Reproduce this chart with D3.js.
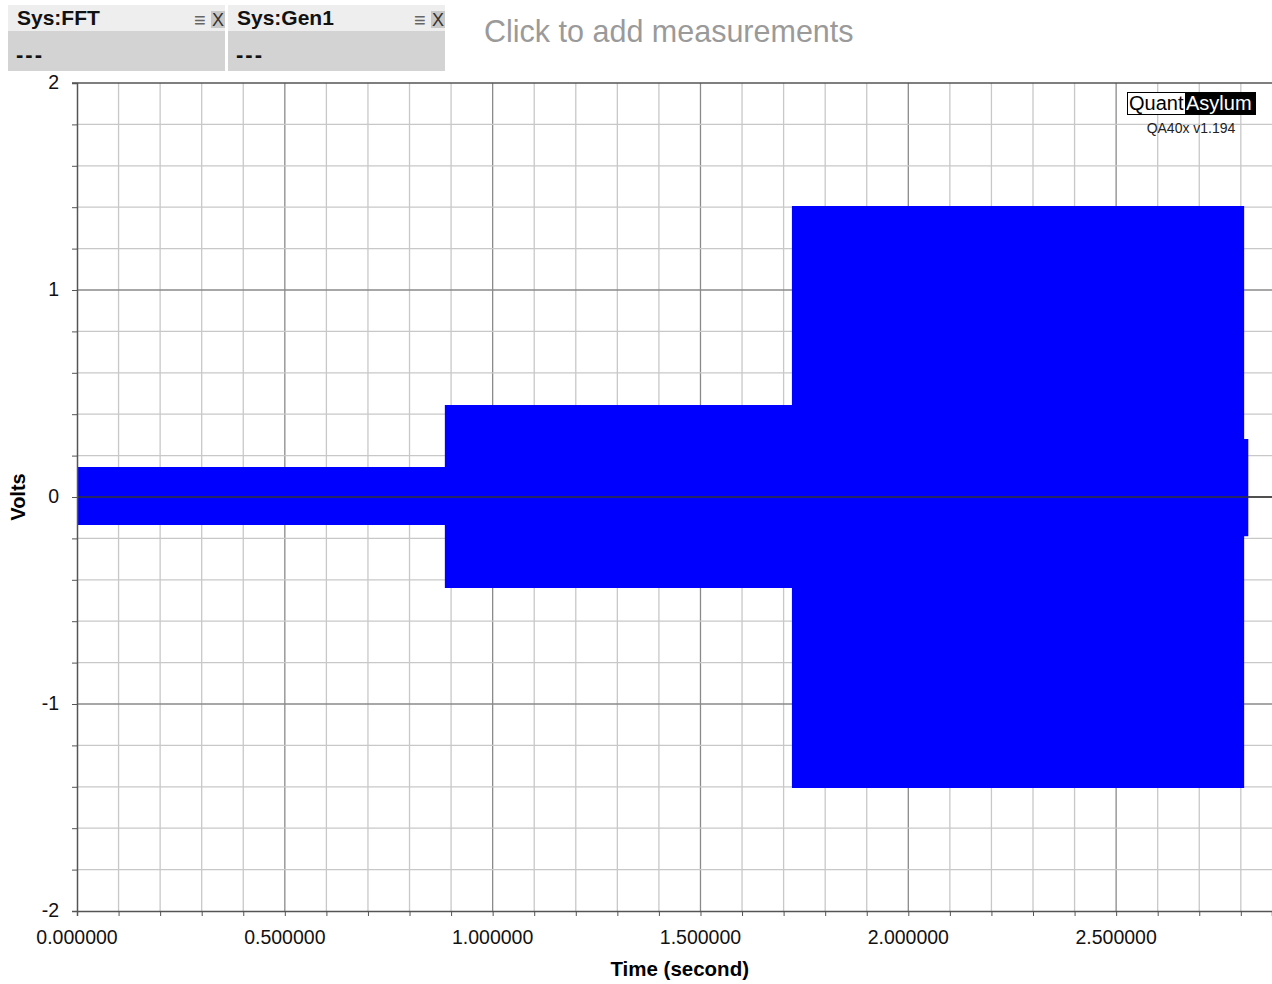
<!DOCTYPE html>
<html lang="en">
<head>
	<meta charset="UTF-8">
	<title>QA40x Time Domain</title>
	<script src="https://cdn.jsdelivr.net/npm/d3@7"></script>
	<style>
	body {
		margin: 0;
		background-color: #ffffff;
		font-family: "Liberation Sans", Arial, sans-serif;
	}
	svg text {
		font-family: "Liberation Sans", Arial, sans-serif;
	}
	</style>
</head>
<body>
<script>
	// envelope of the recorded burst: segment start times (s), upper and lower peaks (V)
	var segStart = [0.002, 0.885, 1.720, 2.808];
	var segEnd = 2.818;
	var segHigh = [0.145, 0.444, 1.406, 0.28];
	var segLow = [-0.135, -0.44, -1.406, -0.19];

	var xTicks = [0, 0.5, 1.0, 1.5, 2.0, 2.5];
	var yTicks = [-2, -1, 0, 1, 2];
	var panels = ['Sys:FFT', 'Sys:Gen1'];

	var W = 1272, H = 984;
	var margin = {top: 83, bottom: 73, left: 77, right: 0};
	var width = W - margin.left - margin.right;
	var height = H - margin.top - margin.bottom;

	var svg = d3.select('body').append('svg')
		.attr('width', W)
		.attr('height', H);

	// header panels
	var panel = svg.selectAll('.panel')
		.data(panels)
		.enter()
		.append('g')
		.attr('class', 'panel')
		.attr('transform', function (d, i) { return 'translate(' + (8 + i * 220) + ',5)'; });

	panel.append('rect').attr('width', 217).attr('height', 26).style('fill', '#eeeeee');
	panel.append('rect').attr('y', 26).attr('width', 217).attr('height', 40).style('fill', '#d3d3d3');
	panel.append('text')
		.attr('x', 9).attr('y', 20)
		.style('font-size', '21px').style('font-weight', 'bold').style('fill', '#111')
		.text(function (d) { return d; });
	panel.append('text')
		.attr('x', 8).attr('y', 57)
		.style('font-size', '22px').style('font-weight', 'bold').style('fill', '#111')
		.style('letter-spacing', '2px')
		.text('---');
	panel.append('rect').attr('x', 203).attr('y', 6).attr('width', 14).attr('height', 17).style('fill', '#c8c8c8');
	panel.append('text')
		.attr('x', 210).attr('y', 21)
		.style('font-size', '18px').style('fill', '#333').style('text-anchor', 'middle')
		.text('X');
	panel.append('text')
		.attr('x', 186).attr('y', 22)
		.style('font-size', '20px').style('font-weight', 'bold').style('fill', '#666')
		.text('\u2261');

	svg.append('text')
		.attr('x', 484).attr('y', 42)
		.style('font-size', '30.5px').style('fill', '#9a9a9a')
		.text('Click to add measurements');

	var g = svg.append('g')
		.attr('transform', 'translate(' + margin.left + ',' + margin.top + ')');

	var x = d3.scaleLinear().domain([0, 2.875]).range([0, width]);
	var y = d3.scaleLinear().domain([-2, 2]).range([height, 0]);

	// minor grid
	var xMinor = d3.range(1, 29).map(function (i) { return i / 10; });
	var yMinor = d3.range(-9, 10).map(function (i) { return i / 5; });

	g.selectAll('.vgrid')
		.data(xMinor)
		.enter().append('line')
		.attr('x1', function (d) { return x(d); })
		.attr('x2', function (d) { return x(d); })
		.attr('y1', 0).attr('y2', height)
		.style('stroke', function (d) { return Math.abs(d * 2 - Math.round(d * 2)) < 1e-6 ? '#8a8a8a' : '#c8c8c8'; })
		.style('stroke-width', 1.3);

	g.selectAll('.hgrid')
		.data(yMinor)
		.enter().append('line')
		.attr('x1', 0).attr('x2', width)
		.attr('y1', function (d) { return y(d); })
		.attr('y2', function (d) { return y(d); })
		.style('stroke', function (d) { return Math.abs(d - Math.round(d)) < 1e-6 ? '#8a8a8a' : '#c8c8c8'; })
		.style('stroke-width', 1.3);

	// signal envelope
	var env = segStart.map(function (t, i) { return {t: t, hi: segHigh[i], lo: segLow[i]}; });
	env.push({t: segEnd, hi: segHigh[segHigh.length - 1], lo: segLow[segLow.length - 1]});

	var area = d3.area()
		.curve(d3.curveStepAfter)
		.x(function (d) { return x(d.t); })
		.y0(function (d) { return y(d.lo); })
		.y1(function (d) { return y(d.hi); });

	g.append('path')
		.datum(env)
		.attr('d', area)
		.style('fill', '#0000ff');

	// zero line
	g.append('line')
		.attr('x1', 0).attr('x2', width)
		.attr('y1', y(0)).attr('y2', y(0))
		.style('stroke', '#333').style('stroke-width', 1.3);

	// top border
	g.append('line')
		.attr('x1', -5).attr('x2', width)
		.attr('y1', 0).attr('y2', 0)
		.style('stroke', '#555').style('stroke-width', 1.3);

	// axes
	var xAxis = g.append('g')
		.attr('transform', 'translate(0,' + height + ')')
		.call(d3.axisBottom(x).tickValues(xMinor.concat([0])).tickSize(5).tickFormat(''));
	xAxis.select('.domain').style('stroke', '#555').style('stroke-width', 1.5);
	xAxis.selectAll('line').style('stroke', '#555');

	g.selectAll('.xlabel')
		.data(xTicks)
		.enter().append('text')
		.attr('x', function (d) { return x(d); })
		.attr('y', height + 33)
		.style('text-anchor', 'middle')
		.style('font-size', '19.5px').style('fill', '#111')
		.text(function (d) { return d.toFixed(6); });

	var yAxis = g.append('g')
		.call(d3.axisLeft(y).tickValues(yMinor.concat([-2, 2])).tickSize(5).tickFormat(''));
	yAxis.select('.domain').style('stroke', '#555').style('stroke-width', 1.5);
	yAxis.selectAll('line').style('stroke', '#555');

	g.selectAll('.ylabel')
		.data(yTicks)
		.enter().append('text')
		.attr('x', -18)
		.attr('y', function (d) { return y(d) - 1; })
		.attr('dy', '0.35em')
		.style('text-anchor', 'end')
		.style('font-size', '19.5px').style('fill', '#111')
		.text(function (d) { return d; });

	svg.append('text')
		.attr('x', margin.left + x(1.45))
		.attr('y', 976)
		.style('text-anchor', 'middle')
		.style('font-size', '20.5px').style('font-weight', 'bold')
		.text('Time (second)');

	svg.append('text')
		.attr('transform', 'translate(25,' + (margin.top + y(0)) + ') rotate(-90)')
		.style('text-anchor', 'middle')
		.style('font-size', '20px').style('font-weight', 'bold')
		.text('Volts');

	// logo
	var logo = svg.append('g').attr('transform', 'translate(1127,92)');
	logo.append('rect').attr('width', 129).attr('height', 23).style('fill', '#000');
	logo.append('rect').attr('x', 1).attr('y', 1).attr('width', 57).attr('height', 21).style('fill', '#fff');
	logo.append('text').attr('x', 2).attr('y', 18).style('font-size', '20px').style('fill', '#000').text('Quant');
	logo.append('text').attr('x', 59).attr('y', 18).style('font-size', '20px').style('fill', '#fff').text('Asylum');
	svg.append('text')
		.attr('x', 1191).attr('y', 133)
		.style('text-anchor', 'middle')
		.style('font-size', '14px').style('fill', '#222')
		.text('QA40x v1.194');
</script>
</body>
</html>
